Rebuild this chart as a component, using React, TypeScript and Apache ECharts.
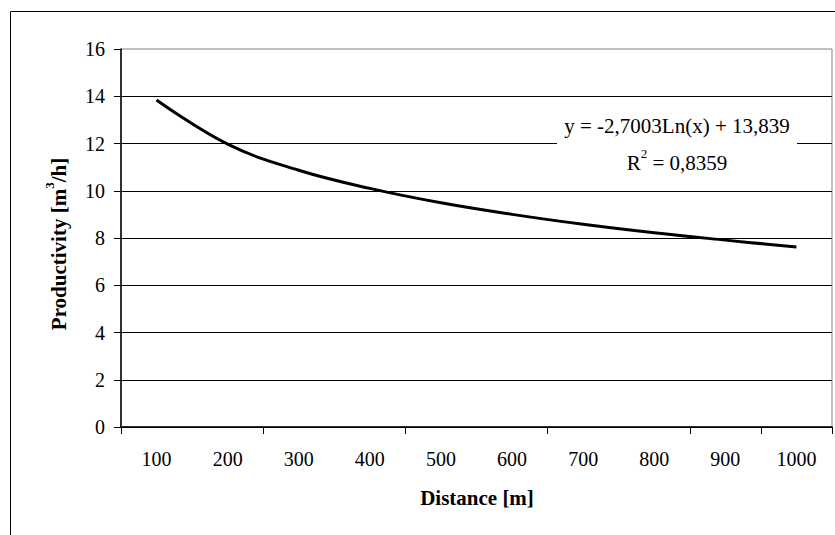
import React, { useEffect, useRef } from "react";
import * as echarts from "echarts";

const categories = ["100", "200", "300", "400", "500", "600", "700", "800", "900", "1000"];
const productivity = [13.84, 11.97, 10.87, 10.1, 9.49, 9.0, 8.58, 8.22, 7.91, 7.62];
const yMin = 0;
const yMax = 16;
const yStep = 2;
const xTitle = "Distance [m]";
const equationLine = "y = -2,7003Ln(x) + 13,839";
const r2Value = "0,8359";

const FONT = "Liberation Serif";

export default function App() {
  const ref = useRef<HTMLDivElement>(null);

  useEffect(() => {
    if (!ref.current) return;
    const chart = echarts.init(ref.current, undefined, { renderer: "svg" });
    chart.setOption({
      animation: false,
      backgroundColor: "#ffffff",
      textStyle: { fontFamily: FONT },
      grid: {
        left: 121,
        top: 49,
        right: 3,
        bottom: 108,
        show: true,
        borderColor: "#808080",
        borderWidth: 1,
        backgroundColor: "transparent",
      },
      xAxis: {
        type: "category",
        data: categories,
        boundaryGap: true,
        axisLine: { show: true, lineStyle: { color: "#000", width: 1.5 } },
        axisTick: { show: true, interval: 1, length: 7, inside: false, lineStyle: { color: "#000", width: 1 } },
        axisLabel: { interval: 0, color: "#000", fontFamily: FONT, fontSize: 20, margin: 22 },
        splitLine: { show: false },
      },
      yAxis: {
        type: "value",
        min: yMin,
        max: yMax,
        interval: yStep,
        axisLine: { show: true, lineStyle: { color: "#000", width: 1.5 } },
        axisTick: { show: true, length: 7, lineStyle: { color: "#000", width: 1 } },
        axisLabel: { color: "#000", fontFamily: FONT, fontSize: 20, margin: 16 },
        splitLine: { show: true, showMaxLine: false, lineStyle: { color: "#000", width: 1 } },
      },
      series: [
        {
          type: "line",
          data: productivity,
          smooth: 0.4,
          symbol: "none",
          lineStyle: { color: "#000", width: 3 },
          z: 3,
        },
      ],
      graphic: [
        { type: "line", z: 100, shape: { x1: 10.5, y1: 11.5, x2: 835, y2: 11.5 }, style: { stroke: "#000", lineWidth: 1 } },
        { type: "line", z: 100, shape: { x1: 10.5, y1: 11.5, x2: 10.5, y2: 535 }, style: { stroke: "#000", lineWidth: 1 } },
        {
          type: "rect",
          z: 90,
          shape: { x: 557, y: 104, width: 240, height: 74 },
          style: { fill: "#fff" },
        },
        {
          type: "text",
          z: 100,
          x: 677,
          y: 126,
          style: {
            text: equationLine,
            fontFamily: FONT,
            fontSize: 21,
            fill: "#000",
            align: "center",
            verticalAlign: "middle",
          },
        },
        {
          type: "text",
          z: 100,
          x: 677,
          y: 160,
          style: {
            text: "{a|R}{s|2}{a| = " + r2Value + "}",
            align: "center",
            verticalAlign: "middle",
            rich: {
              a: { fontFamily: FONT, fontSize: 21, fill: "#000", lineHeight: 26, verticalAlign: "bottom" },
              s: { fontFamily: FONT, fontSize: 13, fill: "#000", lineHeight: 13, verticalAlign: "top" },
            },
          },
        },
        {
          type: "text",
          z: 100,
          x: 477,
          y: 498,
          style: {
            text: xTitle,
            fontFamily: FONT,
            fontSize: 21,
            fontWeight: "bold",
            fill: "#000",
            align: "center",
            verticalAlign: "middle",
          },
        },
        {
          type: "text",
          z: 100,
          x: 56,
          y: 244,
          rotation: Math.PI / 2,
          style: {
            text: "{a|Productivity [m}{s|3}{a|/h]}",
            align: "center",
            verticalAlign: "middle",
            rich: {
              a: { fontFamily: FONT, fontSize: 21, fontWeight: "bold", fill: "#000", lineHeight: 26, verticalAlign: "bottom" },
              s: { fontFamily: FONT, fontSize: 13, fontWeight: "bold", fill: "#000", lineHeight: 13, verticalAlign: "top" },
            },
          },
        },
      ],
    });
    return () => chart.dispose();
  }, []);

  return (
    <div
      ref={ref}
      style={{ position: "fixed", left: 0, top: 0, width: 835, height: 535, background: "#fff" }}
    />
  );
}
